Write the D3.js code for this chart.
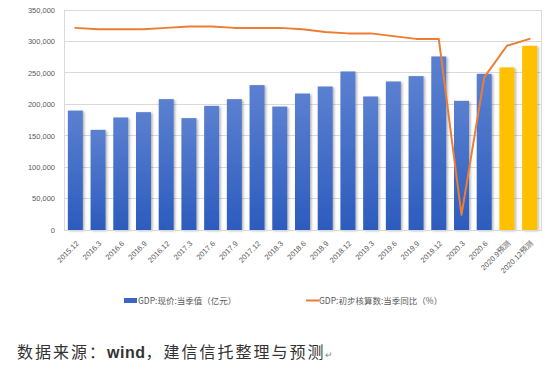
<!DOCTYPE html>
<html>
<head>
<meta charset="utf-8">
<script src="https://cdn.jsdelivr.net/npm/d3@7"></script>
<style>
  html, body { margin: 0; padding: 0; background: #fff; }
  svg { display: block; }
</style>
</head>
<body>
<svg id="chart" width="550" height="373"></svg>
<script>
const categories = ["2015.12","2016.3","2016.6","2016.9","2016.12","2017.3","2017.6","2017.9","2017.12","2018.3","2018.6","2018.9","2018.12","2019.3","2019.6","2019.9","2019.12","2020.3","2020.6","2020.9预测","2020.12预测"];
const gdpValues = [190000,159300,179000,187500,208200,178000,197500,208200,230500,196400,217100,228300,252200,212400,236300,244800,276100,205500,248500,258600,293100];
const growthValues = [6.8,6.7,6.7,6.7,6.8,6.9,6.9,6.8,6.8,6.8,6.7,6.5,6.4,6.4,6.2,6.0,6.0,-6.8,3.2,5.5,6.0];
const forecastFlags = [0,0,0,0,0,0,0,0,0,0,0,0,0,0,0,0,0,0,0,1,1];
const yTicks = [0,50000,100000,150000,200000,250000,300000,350000];
const legendLabels = ["GDP:现价:当季值（亿元）", "GDP:初步核算数:当季同比（%）"];

const svg = d3.select("#chart");
const plot = {left: 64, right: 541, top: 10, bottom: 230};

const defs = svg.append("defs");
const grad = defs.append("linearGradient").attr("id","barGrad").attr("x1",0).attr("y1",0).attr("x2",0).attr("y2",1);
grad.append("stop").attr("offset","0%").attr("stop-color","#5b80d0");
grad.append("stop").attr("offset","100%").attr("stop-color","#2c5cbe");
const f = defs.append("filter").attr("id","shadow").attr("x","-20%").attr("y","-5%").attr("width","150%").attr("height","115%");
f.append("feDropShadow").attr("dx",1.5).attr("dy",1).attr("stdDeviation",0.8).attr("flood-color","#000").attr("flood-opacity",0.3);

const x = d3.scaleBand().domain(categories).range([plot.left, plot.right]).paddingInner(0.34).paddingOuter(0.17);
const y = d3.scaleLinear().domain([0,350000]).range([plot.bottom, plot.top]);
const y2 = d3.scaleLinear().domain([-7.9,8.1]).range([plot.bottom, plot.top]);

// gridlines
svg.append("g").selectAll("line").data(yTicks).join("line")
  .attr("x1", plot.left).attr("x2", plot.right)
  .attr("y1", d => y(d)).attr("y2", d => y(d))
  .attr("stroke", "#d9d9d9").attr("stroke-width", 1).attr("shape-rendering","crispEdges");
// plot border
svg.append("rect").attr("x", plot.left).attr("y", plot.top)
  .attr("width", plot.right - plot.left).attr("height", plot.bottom - plot.top)
  .attr("fill","none").attr("stroke","#d9d9d9").attr("shape-rendering","crispEdges");

// y axis
const yAxis = svg.append("g").attr("transform", `translate(${plot.left},0)`)
  .call(d3.axisLeft(y).tickValues(yTicks).tickFormat(d3.format(",")).tickSize(0).tickPadding(9));
yAxis.select(".domain").remove();
yAxis.selectAll("text").attr("fill","#595959").style("font-family","'Liberation Sans', Arial, sans-serif").style("font-size","7.5px");

// bars
svg.append("g").selectAll("rect").data(categories).join("rect")
  .attr("x", d => x(d)).attr("width", x.bandwidth())
  .attr("y", (d,i) => y(gdpValues[i])).attr("height", (d,i) => y(0) - y(gdpValues[i]))
  .attr("fill", (d,i) => forecastFlags[i] ? "#ffc000" : "url(#barGrad)")
  .attr("filter","url(#shadow)");

// x axis
const xAxis = svg.append("g").attr("transform", `translate(0,${plot.bottom})`)
  .call(d3.axisBottom(x).tickSize(0).tickPadding(0));
xAxis.select(".domain").attr("stroke","#d9d9d9");
xAxis.selectAll("text")
  .attr("fill","#595959")
  .style("font-family","'Liberation Sans', 'Noto Sans CJK SC', sans-serif").style("font-size","7.5px")
  .attr("text-anchor","end").attr("y",0).attr("dy","0")
  .attr("transform","translate(4,14) rotate(-45)");

// line
const line = d3.line().x((d,i) => x(categories[i]) + x.bandwidth()/2).y(d => y2(d)).curve(d3.curveLinear);
svg.append("path").datum(growthValues).attr("d", line)
  .attr("fill","none").attr("stroke","#ed7d31").attr("stroke-width",2).attr("stroke-linejoin","round").attr("stroke-linecap","round");

// legend
const lg = svg.append("g").style("font-family","'Noto Sans CJK SC', sans-serif").style("font-size","8.5px").attr("fill","#595959");
lg.append("rect").attr("x",124).attr("y",298).attr("width",13).attr("height",5).attr("fill","#3a66c4");
lg.append("text").attr("x",138).attr("y",301).attr("dy","0.35em").text(legendLabels[0]);
lg.append("line").attr("x1",306).attr("x2",319).attr("y1",300.5).attr("y2",300.5).attr("stroke","#ed7d31").attr("stroke-width",2);
lg.append("text").attr("x",319).attr("y",301).attr("dy","0.35em").text(legendLabels[1]);

// footer
const ft = svg.append("text").attr("x",17).attr("y",358)
  .style("font-family","'Noto Sans CJK SC', sans-serif").style("font-size","16px").style("letter-spacing","2px").attr("fill","#333");
ft.append("tspan").text("数据来源：");
ft.append("tspan").style("font-family","'Liberation Sans', Arial, sans-serif").style("font-weight","bold").style("letter-spacing","0.5px").text("wind");
ft.append("tspan").text("，建信信托整理与预测");
ft.append("tspan").style("font-size","9px").attr("fill","#888").style("letter-spacing","0").text("↵");
</script>
</body>
</html>
